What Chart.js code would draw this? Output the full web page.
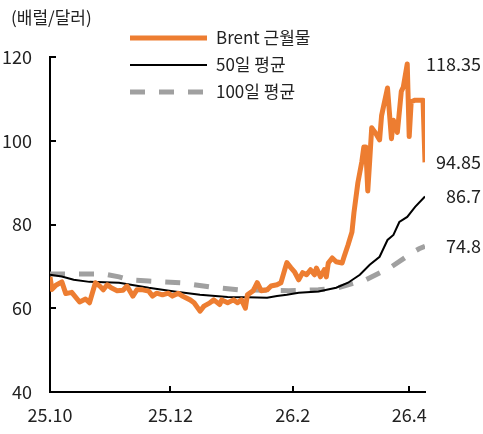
<!DOCTYPE html>
<html>
<head>
<meta charset="utf-8">
<script src="https://cdn.jsdelivr.net/npm/chart.js@4.4.1/dist/chart.umd.min.js"></script>
<style>
  html, body { margin: 0; padding: 0; background: #fff; }
  #wrap { width: 483px; height: 434px; }
</style>
</head>
<body>
<div id="wrap"><canvas id="myChart" width="483" height="434"></canvas></div>
<script>
// days counted from 2025-10-01
var tickDays = [0, 61, 123, 182];
var tickLabels = ["25.10", "25.12", "26.2", "26.4"];

var brentDays = [0, 1, 3, 6, 8, 11, 15, 18, 20, 23, 25, 27, 29, 31, 34, 37, 39, 42, 44, 47,
    50, 52, 54, 57, 60, 62, 65, 67, 71, 73, 76, 78, 81, 83, 86, 87, 90, 93, 95, 97,
    99, 100, 103, 105, 107, 110, 112, 115, 117, 119, 120, 122, 124, 126, 128, 130, 132, 134, 135, 137,
    139, 140, 141, 143, 145, 148, 149, 151, 153, 154, 156, 157, 158, 159, 160, 161, 162, 163, 165, 167,
    168, 171, 173, 174, 176, 178, 179, 181, 182, 183, 185, 189, 190];
var brent = [67.5, 64.5, 65.5, 66.3, 63.5, 63.8, 61.5, 62.2, 61.3, 66.1, 65.4, 64.4, 65.6, 64.9, 64.2, 64.3, 65.3, 62.9, 64.4, 64.4,
    64.1, 62.9, 63.6, 63.2, 63.6, 62.9, 63.6, 62.9, 62.0, 61.3, 59.3, 60.5, 61.3, 62.0, 60.9, 62.0, 61.3, 62.0, 61.3, 62.0,
    60.0, 63.2, 64.2, 66.1, 64.2, 64.4, 65.3, 65.6, 66.1, 69.3, 70.9, 69.7, 68.6, 66.8, 68.5, 68.0, 69.2, 68.0, 69.6, 67.5,
    69.2, 67.5, 70.8, 72.0, 71.1, 70.8, 72.3, 75.1, 78.2, 82.8, 90.0, 92.5, 95.0, 98.5, 98.5, 88.0, 95.4, 103.1, 101.8, 100.2,
    106.0, 112.6, 100.5, 104.9, 102.0, 111.8, 112.8, 118.35, 101.0, 109.3, 109.7, 109.7, 94.85];

var ma50Days = [0, 6, 12, 20, 35, 50, 63, 76, 90, 100, 110, 115, 120, 126, 136, 145, 151, 157, 162, 167,
    171, 174, 177, 181, 185, 190];
var ma50 = [68.0, 67.6, 66.8, 66.3, 66.1, 64.9, 64.0, 63.2, 62.7, 62.6, 62.5, 62.9, 63.2, 63.7, 64.0, 64.9, 66.1, 68.0, 70.4, 72.3,
    76.3, 77.5, 80.6, 81.8, 84.2, 86.7];

var ma100Days = [0, 27, 35, 40, 50, 66, 81, 96, 121, 136, 146, 160, 172, 184, 187, 190];
var ma100 = [68.2, 68.2, 67.5, 66.8, 66.5, 66.1, 65.1, 64.4, 64.2, 64.4, 64.9, 66.8, 69.6, 73.4, 74.2, 74.8];

var endLabels = ["118.35", "94.85", "86.7", "74.8"];
var endValues = [118.35, 94.85, 86.7, 74.8];

var FONT = "'Noto Sans CJK KR', 'Noto Sans', sans-serif";
var TEXT = "#222";

function pts(xs, ys) {
    return xs.map(function (x, i) { return { x: x, y: ys[i] }; });
}

// inward tick marks, title, legend and end labels
var extras = {
    id: "extras",
    afterDraw: function (chart) {
        var c = chart.ctx, a = chart.chartArea;
        var xs = chart.scales.x, ys = chart.scales.y;
        c.save();
        c.strokeStyle = "#000";
        c.lineWidth = 2;
        ys.ticks.forEach(function (t) {
            var y = Math.round(ys.getPixelForValue(t.value));
            if (t.value === 40) return;
            c.beginPath(); c.moveTo(a.left, y); c.lineTo(a.left + 6, y); c.stroke();
        });
        tickDays.forEach(function (d) {
            if (d === 0) return;
            var x = Math.round(xs.getPixelForValue(d));
            c.beginPath(); c.moveTo(x, a.bottom); c.lineTo(x, a.bottom - 6); c.stroke();
        });

        c.fillStyle = TEXT;
        c.textBaseline = "middle";
        c.font = "17px " + FONT;
        c.textAlign = "left";
        c.fillText("(배럴/달러)", 11, 18);

        chart.data.datasets.forEach(function (ds, i) {
            var y = 38 + i * 27;
            c.save();
            c.strokeStyle = ds.borderColor;
            c.lineWidth = ds.borderWidth;
            c.setLineDash(ds.borderDash || []);
            c.beginPath(); c.moveTo(130, y); c.lineTo(207, y); c.stroke();
            c.restore();
            c.fillText(ds.label, 216, y);
        });

        c.font = "18px " + FONT;
        c.textAlign = "right";
        endLabels.forEach(function (lab, i) {
            c.fillText(lab, 481, ys.getPixelForValue(endValues[i]));
        });
        c.restore();
    }
};

new Chart(document.getElementById("myChart").getContext("2d"), {
    type: "line",
    data: {
        datasets: [
            {
                label: "Brent 근월물",
                data: pts(brentDays, brent),
                borderColor: "#ED7D31",
                borderWidth: 5,
                borderJoinStyle: "round"
            },
            {
                label: "50일 평균",
                data: pts(ma50Days, ma50),
                borderColor: "#000000",
                borderWidth: 2
            },
            {
                label: "100일 평균",
                data: pts(ma100Days, ma100),
                borderColor: "#A0A0A0",
                borderWidth: 5,
                borderDash: [15, 14]
            }
        ]
    },
    options: {
        responsive: false,
        animation: false,
        devicePixelRatio: 1,
        elements: { point: { radius: 0 }, line: { tension: 0 } },
        layout: { padding: { left: 0, top: 57, right: 58, bottom: 0 } },
        plugins: { legend: { display: false }, tooltip: { enabled: false } },
        scales: {
            x: {
                type: "linear",
                min: 0,
                max: 190,
                afterBuildTicks: function (s) {
                    s.ticks = tickDays.map(function (d) { return { value: d }; });
                },
                afterFit: function (s) { s.height = 42; },
                grid: { drawOnChartArea: false, drawTicks: false },
                border: { color: "#000", width: 2 },
                ticks: {
                    autoSkip: false,
                    maxRotation: 0,
                    padding: 12,
                    color: TEXT,
                    font: { family: FONT, size: 18 },
                    callback: function (v) {
                        var i = tickDays.indexOf(v);
                        return i >= 0 ? tickLabels[i] : "";
                    }
                }
            },
            y: {
                min: 40,
                max: 120,
                afterFit: function (s) { s.width = 50; },
                grid: { drawOnChartArea: false, drawTicks: false },
                border: { color: "#000", width: 2 },
                ticks: {
                    stepSize: 20,
                    padding: 18,
                    color: TEXT,
                    font: { family: FONT, size: 18 }
                }
            }
        }
    },
    plugins: [extras]
});
</script>
</body>
</html>
